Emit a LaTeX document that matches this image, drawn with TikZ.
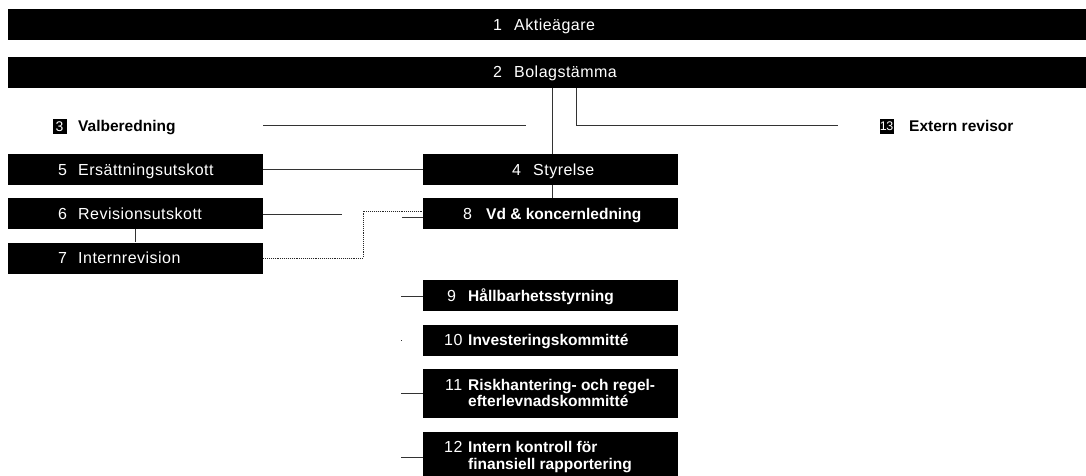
\documentclass[tikz,border=0pt]{standalone}
\usepackage{fontspec}
\setmainfont{Liberation Sans}[LetterSpace=3]
\newfontfamily\boldtight{Liberation Sans}[LetterSpace=0]
\newfontfamily\boxnum{Liberation Sans}[LetterSpace=-4]
\begin{document}
\begin{tikzpicture}[x=1pt,y=-1pt,
  blk/.style={rectangle,fill=black,draw=none,inner sep=0pt},
  wt/.style={text=white,inner sep=0pt,anchor=base west,font=\fontsize{16}{18}\selectfont},
  wtb/.style={text=white,inner sep=0pt,anchor=base west,font=\boldtight\fontsize{15.5}{18}\selectfont\bfseries},
  bt/.style={text=black,inner sep=0pt,anchor=base west,font=\boldtight\fontsize{15.5}{18}\selectfont\bfseries},
  con/.style={draw=black!80,line width=0.8pt},
  dcon/.style={draw=black!85,line width=0.9pt,densely dotted}]
\useasboundingbox (0,0) rectangle (1086,476);
% boxes
\node[blk,minimum width=1078pt,minimum height=31pt] (b1) at (547,25) {};
\node[blk,minimum width=1078pt,minimum height=31pt] (b2) at (547,72.5) {};
\node[blk,minimum width=255pt,minimum height=31pt] (b4) at (550.5,169.5) {};
\node[blk,minimum width=255pt,minimum height=31pt] (b8) at (550.5,213.5) {};
\node[blk,minimum width=255pt,minimum height=31pt] (b5) at (135.5,169.5) {};
\node[blk,minimum width=255pt,minimum height=31pt] (b6) at (135.5,213.5) {};
\node[blk,minimum width=255pt,minimum height=31pt] (b7) at (135.5,258) {};
\node[blk,minimum width=255pt,minimum height=31pt] (b9) at (550.5,295.5) {};
\node[blk,minimum width=255pt,minimum height=31pt] (b10) at (550.5,340) {};
\node[blk,minimum width=255pt,minimum height=49pt] (b11) at (550.5,393.5) {};
\node[blk,minimum width=255pt,minimum height=44pt] (b12) at (550.5,454) {};
\node[blk,minimum width=14pt,minimum height=14pt,text=white,font=\boxnum\fontsize{14}{14}\selectfont] (b3) at (59.5,126.5) {3};
\node[blk,minimum width=14pt,minimum height=14pt,text=white,font=\boxnum\fontsize{12.5}{12.5}\selectfont] (b13) at (886.5,126.5) {13};
% labels
\node[wt] (t1n) at (493,30.5) {1};
\node[wt] (t1) at (514,30.5) {Aktieägare};
\node[wt] (t2n) at (493,78) {2};
\node[wt] (t2) at (514,78) {Bolagstämma};
\node[bt] (t3) at (78,131.5) {Valberedning};
\node[bt] (t13) at (909,131.5) {Extern revisor};
\node[wt] (t4n) at (512,175) {4};
\node[wt] (t4) at (533,175) {Styrelse};
\node[wt] (t5n) at (58,175) {5};
\node[wt] (t5) at (78,175) {Ersättningsutskott};
\node[wt] (t6n) at (58,219) {6};
\node[wt] (t6) at (78,219) {Revisionsutskott};
\node[wt] (t7n) at (58,263.5) {7};
\node[wt] (t7) at (78,263.5) {Internrevision};
\node[wt] (t8n) at (463,219) {8};
\node[wtb] (t8) at (486,219) {Vd \& koncernledning};
\node[wt] (t9n) at (447,301) {9};
\node[wtb] (t9) at (468,301) {Hållbarhetsstyrning};
\node[wt] (t10n) at (444,345.5) {10};
\node[wtb] (t10) at (468,345.5) {Investeringskommitté};
\node[wt] (t11n) at (445,390) {11};
\node[wtb] (t11a) at (468,390) {Riskhantering- och regel-};
\node[wtb] (t11b) at (468,406) {efterlevnadskommitté};
\node[wt] (t12n) at (444,452.5) {12};
\node[wtb] (t12a) at (468,452.5) {Intern kontroll för};
\node[wtb] (t12b) at (468,469) {finansiell rapportering};
% coordinates
\coordinate (vx) at (552,0);
\coordinate (ex) at (576,0);
\coordinate (e1) at (838,125.5);
\coordinate (va) at (263,125);
\coordinate (vb) at (526,125);
\coordinate (r6) at (342,214);
\coordinate (dk) at (363,211);
\coordinate (s8) at (402,217);
\coordinate (s9) at (401,296);
\coordinate (s10) at (401,340);
\coordinate (s10b) at (402.2,340);
\coordinate (s11) at (401,393);
\coordinate (s12) at (401,457);
% connectors
\draw[con] (b2.south -| vx) -- (b4.north -| vx);
\draw[con] (b4.south -| vx) -- (b8.north -| vx);
\draw[con] (b2.south -| ex) |- (e1);
\draw[con] (va) -- (vb);
\draw[con] (b5.east) -- (b4.west);
\draw[con] (b6.east |- r6) -- (r6);
\draw[con] (b6.south) -- (b7.north);
\draw[dcon] (b7.east) -| (dk) -- (b8.west |- dk);
\draw[con] (s8) -- (b8.west |- s8);
\draw[con] (s9) -- (b9.west |- s9);
\draw[con] (s10) -- (s10b);
\draw[con] (s11) -- (b11.west |- s11);
\draw[con] (s12) -- (b12.west |- s12);
\end{tikzpicture}
\end{document}
